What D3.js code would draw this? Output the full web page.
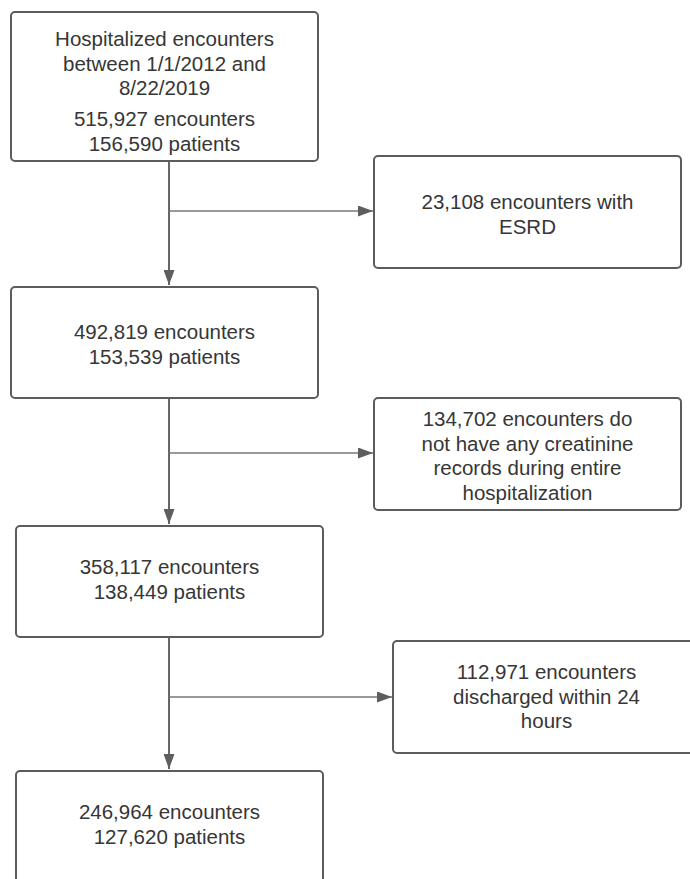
<!DOCTYPE html>
<html>
<head>
<meta charset="utf-8">
<script src="https://cdn.jsdelivr.net/npm/d3@7.8.5/dist/d3.min.js"></script>
<style>
  html, body { margin: 0; padding: 0; background: #fff; }
  svg { display: block; }
  svg text { font-family: Arial, "Liberation Sans", Helvetica, sans-serif; }
</style>
</head>
<body>
<div id="chart"></div>
<script>
// Step counts, top to bottom
const stepLabels = [
  ["Hospitalized encounters", "between 1/1/2012 and", "8/22/2019", "", "515,927 encounters", "156,590 patients"],
  ["492,819 encounters", "153,539 patients"],
  ["358,117 encounters", "138,449 patients"],
  ["246,964 encounters", "127,620 patients"],
];

// Exclusions between consecutive steps
const exclusionLabels = [
  ["23,108 encounters with", "ESRD"],
  ["134,702 encounters do", "not have any creatinine", "records during entire", "hospitalization"],
  ["112,971 encounters", "discharged within 24", "hours"],
];

// Box geometry (layout only)
const stepBoxes = [
  { x: 11, y: 12, w: 307, h: 149, textTop: 27 },
  { x: 11, y: 287, w: 307, h: 111, textTop: 45 },
  { x: 16, y: 526, w: 307, h: 111, textTop: 41 },
  { x: 16, y: 771, w: 307, h: 112, textTop: 41 },
];
const exclusionBoxes = [
  { x: 374, y: 156, w: 307, h: 112, textTop: 46, arrowY: 211 },
  { x: 374, y: 398, w: 307, h: 112, textTop: 21, arrowY: 453 },
  { x: 393, y: 641, w: 307, h: 112, textTop: 31, arrowY: 697 },
];

const width = 690;
const height = 879;
const spineX = 169;
const lineH = 24.5;
const gapH = 6.5;

const svg = d3.select("#chart")
  .append("svg")
  .attr("width", width)
  .attr("height", height)
  .attr("viewBox", `0 0 ${width} ${height}`);

const defs = svg.append("defs");
defs.append("marker")
  .attr("id", "head")
  .attr("viewBox", "0 0 15 11")
  .attr("refX", 15)
  .attr("refY", 5.5)
  .attr("markerWidth", 15)
  .attr("markerHeight", 11)
  .attr("markerUnits", "userSpaceOnUse")
  .attr("orient", "auto")
  .append("path")
  .attr("d", "M0,0 L15,5.5 L0,11 Z")
  .attr("fill", "#5e5e5e");

const links = svg.append("g").attr("class", "links");

// vertical arrows between steps
stepBoxes.slice(1).forEach((b, i) => {
  const prev = stepBoxes[i];
  links.append("line")
    .attr("x1", spineX)
    .attr("y1", prev.y + prev.h)
    .attr("x2", spineX)
    .attr("y2", b.y - 2)
    .attr("stroke", "#666")
    .attr("stroke-width", 2)
    .attr("marker-end", "url(#head)");
});

// horizontal arrows to exclusion boxes
exclusionBoxes.forEach((b) => {
  links.append("line")
    .attr("x1", spineX)
    .attr("y1", b.arrowY)
    .attr("x2", b.x - 1)
    .attr("y2", b.arrowY)
    .attr("stroke", "#777")
    .attr("stroke-width", 1.5)
    .attr("marker-end", "url(#head)");
});

function drawBox(b, lines) {
  const g = svg.append("g").attr("class", "box");
  g.append("rect")
    .attr("x", b.x)
    .attr("y", b.y)
    .attr("width", b.w)
    .attr("height", b.h)
    .attr("rx", 4)
    .attr("fill", "#fff")
    .attr("stroke", "#5c5c5c")
    .attr("stroke-width", 2);

  let y = b.y + b.textTop;
  lines.forEach((t) => {
    if (t === "") { y += gapH; return; }
    g.append("text")
      .attr("x", b.x + b.w / 2)
      .attr("y", y + 7)
      .attr("text-anchor", "middle")
      .attr("font-size", 20.5)
      .attr("fill", "#363636")
      .text(t);
    y += lineH;
  });
}

stepBoxes.forEach((b, i) => drawBox(b, stepLabels[i]));
exclusionBoxes.forEach((b, i) => drawBox(b, exclusionLabels[i]));
</script>
</body>
</html>
